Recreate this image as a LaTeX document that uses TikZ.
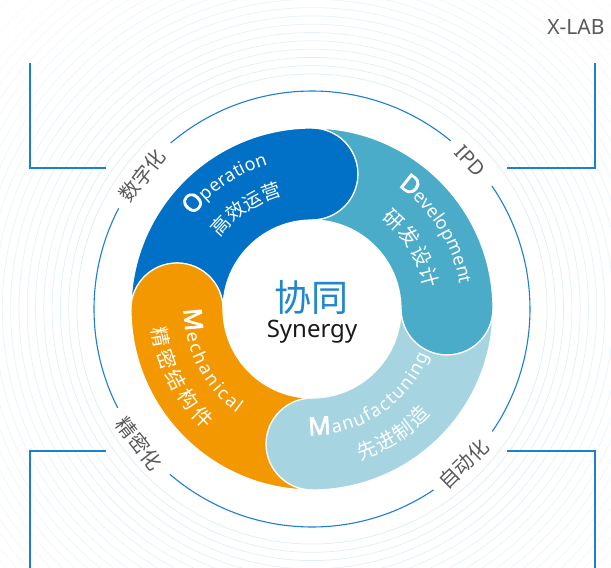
\documentclass[tikz,border=0pt]{standalone}
\usepackage{fontspec}
\setmainfont{Noto Sans}
\newfontfamily\cjk{Noto Sans CJK SC}
\newfontfamily\initfont{Noto Sans}[FakeBold=2.5]
\usetikzlibrary{decorations.text}
\definecolor{opblue}{HTML}{0071C6}
\definecolor{devblue}{HTML}{4BACCA}
\definecolor{manblue}{HTML}{A6D5E1}
\definecolor{mecorange}{HTML}{F39800}
\definecolor{linkblue}{HTML}{1E7FD2}
\definecolor{faintblue}{HTML}{D6EBF8}
\definecolor{labelgray}{HTML}{5A5A5A}
\definecolor{coreblue}{HTML}{1F86CF}
\tikzset{
  ringlabel/.style={text=labelgray, inner sep=0pt},
  bracketline/.style={draw=linkblue, line width=1.3pt},
  orbit/.style={draw=linkblue, line width=1.1pt},
}
\begin{document}
\begin{tikzpicture}[x=1pt,y=1pt]
\useasboundingbox (-312,-259) rectangle (299,309);
\fill[white] (-312,-259) rectangle (299,309);
% faint concentric circles
\begin{scope}
\clip (-312,-259) rectangle (299,309);
\foreach \k in {0,...,25} {
  \pgfmathsetmacro\rr{235+8.3*\k}
  \pgfmathsetmacro\op{max(0.15,0.85-\k/30)}
  \draw[faintblue, line width=0.7pt, opacity=\op] (0,0) circle[radius=\rr];
}
\end{scope}
% corner brackets
\draw[bracketline] (-282,246) -- (-282,141) -- (-206,141);
\draw[bracketline] (283,246) -- (283,141) -- (195,141);
\draw[bracketline] (-282,-260) -- (-282,-142) -- (-206,-142);
\draw[bracketline] (283,-260) -- (283,-142) -- (195,-142);
% thin blue orbit with gaps
\draw[orbit] (50.5:218) arc[start angle=50.5, end angle=130.4, radius=218];
\draw[orbit] (152.5:218) arc[start angle=152.5, end angle=207, radius=218];
\draw[orbit] (229.3:218) arc[start angle=229.3, end angle=303.9, radius=218];
\draw[orbit] (325.8:218) arc[start angle=325.8, end angle=394.4, radius=218];
% ring segments
\foreach \rot/\col in {0/opblue,-90/devblue,-180/manblue,-270/mecorange} {
  \path[fill=\col, draw=white, line width=1.2pt]
    ({180+\rot}:181) arc[start angle={180+\rot}, end angle={90+\rot}, radius=181]
    arc[start angle={90+\rot}, end angle={-90+\rot}, radius=46]
    arc[start angle={90+\rot}, end angle={180+\rot}, radius=89]
    arc[start angle={\rot}, end angle={180+\rot}, radius=46] -- cycle;
}
% centre
\node[circle, fill=white, minimum size=176pt, inner sep=0pt] (hub) at (0,0) {};
\node[text=coreblue, font=\cjk\fontsize{37}{37}\selectfont] (core) at (0,12) {协同};
\node[anchor=base, text=black!90, font=\fontsize{24}{24}\selectfont] (syn) at (0,-28) {Synergy};
% segment texts
\path[decorate, decoration={text along path, text align={fit to path},
  text={|\color{white}\initfont\fontsize{25}{25}\selectfont|O|\color{white}\fontsize{18}{18}\selectfont|peration}}]
  (142:151) arc[start angle=142, end angle=107, radius=151];
\path[decorate, decoration={text along path, text align={fit to path},
  text={|\color{white}\cjk\fontsize{19}{19}\selectfont|高效运营}}]
  (142.3:117) arc[start angle=142.3, end angle=104.7, radius=117];
\path[decorate, decoration={text along path, text align={fit to path},
  text={|\color{white}\initfont\fontsize{25}{25}\selectfont|D|\color{white}\fontsize{18}{18}\selectfont|evelopment}}]
  (55:150) arc[start angle=55, end angle=9.5, radius=150];
\path[decorate, decoration={text along path, text align={fit to path},
  text={|\color{white}\cjk\fontsize{20}{20}\selectfont|研发设计}}]
  (52.3:114) arc[start angle=52.3, end angle=10.3, radius=114];
\path[decorate, decoration={text along path, text align={fit to path},
  text={|\color{white}\initfont\fontsize{25}{25}\selectfont|M|\color{white}\fontsize{18}{18}\selectfont|echanical}}]
  (180:128) arc[start angle=180, end angle=234.3, radius=128];
\path[decorate, decoration={text along path, text align={fit to path},
  text={|\color{white}\cjk\fontsize{20}{20}\selectfont|精密结构件}}]
  (187:161) arc[start angle=187, end angle=228.2, radius=161];
\path[decorate, decoration={text along path, text align={fit to path},
  text={|\color{white}\initfont\fontsize{25}{25}\selectfont|M|\color{white}\fontsize{18}{18}\selectfont|anufactuning}}]
  (-91.5:126) arc[start angle=-91.5, end angle=-21.5, radius=126];
\path[decorate, decoration={text along path, text align={fit to path},
  text={|\color{white}\cjk\fontsize{20}{20}\selectfont|先进制造}}]
  (-72.4:159) arc[start angle=-72.4, end angle=-41.6, radius=159];
% orbit labels
\node[ringlabel, rotate=51.8, font=\cjk\fontsize{20}{20}\selectfont] (digital) at (141.8:216) {数字化};
\node[ringlabel, rotate=-47, font=\fontsize{20}{20}\selectfont] (ipd) at (43:216.5) {IPD};
\node[ringlabel, rotate=-52, font=\cjk\fontsize{20}{20}\selectfont] (precise) at (218:219) {精密化};
\node[ringlabel, rotate=44.4, font=\cjk\fontsize{20}{20}\selectfont] (auto) at (-45.6:217) {自动化};
% top-right label
\node[anchor=east, text=labelgray, font=\fontsize{21}{21}\selectfont] (xlab) at (296,282) {X-LAB};
\end{tikzpicture}
\end{document}
